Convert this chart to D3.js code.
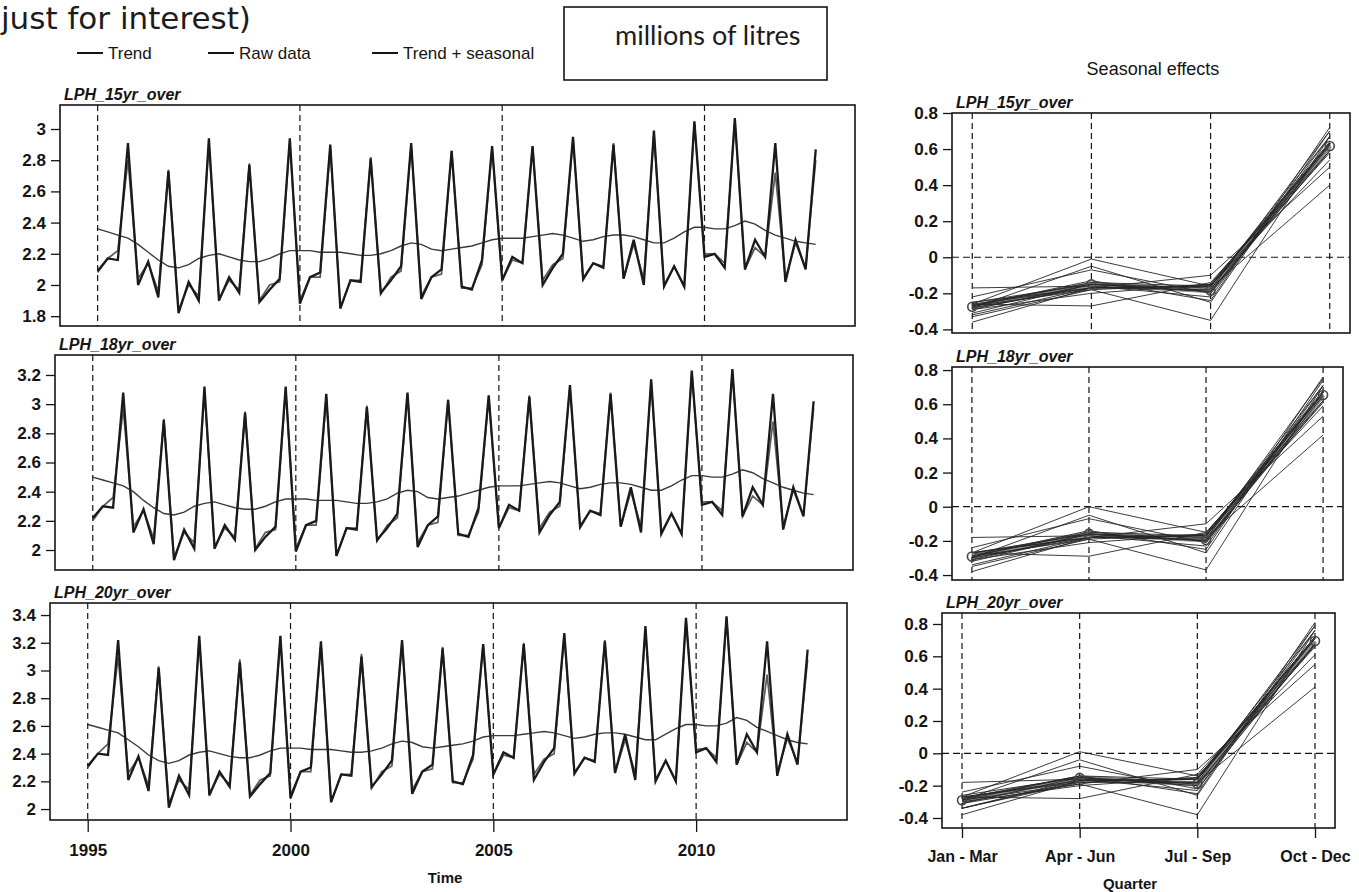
<!DOCTYPE html>
<html>
<head>
<meta charset="utf-8">
<script src="https://cdn.jsdelivr.net/npm/d3@7"></script>
<style>
  body { margin: 0; background: #fff; }
  svg { display: block; font-family: "Liberation Sans", Arial, sans-serif; }
</style>
</head>
<body>
<svg id="chart" width="1359" height="892"></svg>
<script>
// quarterly series, 1995 Q1 .. 2012 Q4 (one row per year)
var startYear = 1995;
var yearTicks = [1995, 2000, 2005, 2010];
var quarterLabels = ["Jan - Mar", "Apr - Jun", "Jul - Sep", "Oct - Dec"];
var seriesNames = ["LPH_15yr_over", "LPH_18yr_over", "LPH_20yr_over"];
var yTicks15 = [1.8, 2, 2.2, 2.4, 2.6, 2.8, 3];
var yTicks18 = [2, 2.2, 2.4, 2.6, 2.8, 3, 3.2];
var yTicks20 = [2, 2.2, 2.4, 2.6, 2.8, 3, 3.2, 3.4];
var seasTicks = [-0.4, -0.2, 0, 0.2, 0.4, 0.6, 0.8];

var raw15 = [
  2.09, 2.17, 2.16, 2.91,
  2.00, 2.15, 1.92, 2.73,
  1.82, 2.02, 1.90, 2.94,
  1.90, 2.05, 1.95, 2.77,
  1.89, 1.97, 2.04, 2.94,
  1.88, 2.05, 2.08, 2.90,
  1.85, 2.03, 2.02, 2.81,
  1.95, 2.03, 2.12, 2.91,
  1.91, 2.05, 2.10, 2.86,
  1.99, 1.97, 2.16, 2.89,
  2.03, 2.18, 2.14, 2.89,
  2.00, 2.11, 2.20, 2.95,
  2.04, 2.14, 2.11, 2.90,
  2.04, 2.29, 2.00, 2.99,
  1.99, 2.12, 1.99, 3.05,
  2.18, 2.20, 2.11, 3.07,
  2.10, 2.29, 2.18, 2.91,
  2.02, 2.29, 2.10, 2.87
];
var trend15 = [
  2.36, 2.34, 2.32, 2.30,
  2.26, 2.21, 2.16, 2.12,
  2.11, 2.13, 2.17, 2.19,
  2.20, 2.18, 2.16, 2.15,
  2.15, 2.17, 2.20, 2.22,
  2.22, 2.22, 2.21, 2.21,
  2.21, 2.20, 2.19, 2.19,
  2.20, 2.22, 2.25, 2.27,
  2.26, 2.23, 2.22, 2.23,
  2.24, 2.25, 2.27, 2.29,
  2.30, 2.30, 2.30, 2.31,
  2.32, 2.33, 2.32, 2.30,
  2.28, 2.29, 2.31, 2.32,
  2.32, 2.31, 2.29, 2.27,
  2.27, 2.30, 2.34, 2.37,
  2.37, 2.36, 2.36, 2.38,
  2.41, 2.39, 2.35, 2.32,
  2.30, 2.28, 2.27, 2.26
];
var fit15 = [
  2.08, 2.17, 2.22, 2.80,
  2.04, 2.14, 1.96, 2.74,
  1.84, 2.00, 1.93, 2.91,
  1.91, 2.03, 1.97, 2.78,
  1.90, 2.00, 2.02, 2.92,
  1.90, 2.05, 2.05, 2.88,
  1.85, 2.03, 2.03, 2.82,
  1.94, 2.05, 2.09, 2.90,
  1.93, 2.05, 2.07, 2.86,
  1.98, 1.98, 2.13, 2.88,
  2.03, 2.16, 2.14, 2.89,
  2.03, 2.13, 2.17, 2.94,
  2.03, 2.14, 2.12, 2.91,
  2.04, 2.26, 2.04, 2.97,
  2.00, 2.12, 1.99, 3.04,
  2.20, 2.20, 2.14, 3.05,
  2.10, 2.24, 2.18, 2.72,
  2.04, 2.27, 2.11, 2.80
];

var raw18 = [
  2.22, 2.30, 2.29, 3.08,
  2.12, 2.28, 2.04, 2.89,
  1.93, 2.14, 2.01, 3.12,
  2.01, 2.17, 2.07, 2.94,
  2.00, 2.09, 2.16, 3.12,
  1.99, 2.17, 2.20, 3.07,
  1.96, 2.15, 2.14, 2.98,
  2.07, 2.15, 2.25, 3.08,
  2.02, 2.17, 2.23, 3.03,
  2.11, 2.09, 2.29, 3.06,
  2.15, 2.31, 2.27, 3.05,
  2.12, 2.24, 2.33, 3.13,
  2.16, 2.27, 2.24, 3.07,
  2.16, 2.43, 2.12, 3.17,
  2.11, 2.25, 2.11, 3.23,
  2.31, 2.33, 2.24, 3.24,
  2.23, 2.43, 2.31, 3.07,
  2.14, 2.43, 2.23, 3.02
];
var trend18 = [
  2.50, 2.48, 2.46, 2.44,
  2.40, 2.34, 2.29, 2.25,
  2.24, 2.26, 2.30, 2.32,
  2.33, 2.31, 2.29, 2.28,
  2.28, 2.30, 2.33, 2.35,
  2.35, 2.35, 2.34, 2.34,
  2.34, 2.33, 2.32, 2.32,
  2.33, 2.35, 2.39, 2.41,
  2.40, 2.36, 2.35, 2.36,
  2.37, 2.39, 2.41, 2.43,
  2.44, 2.44, 2.44, 2.45,
  2.46, 2.47, 2.46, 2.44,
  2.42, 2.43, 2.45, 2.46,
  2.46, 2.45, 2.43, 2.41,
  2.41, 2.44, 2.48, 2.51,
  2.51, 2.50, 2.50, 2.52,
  2.55, 2.53, 2.49, 2.46,
  2.43, 2.41, 2.39, 2.38
];
var fit18 = [
  2.20, 2.30, 2.36, 2.97,
  2.16, 2.27, 2.08, 2.90,
  1.95, 2.12, 2.05, 3.08,
  2.02, 2.15, 2.09, 2.95,
  2.01, 2.12, 2.14, 3.10,
  2.01, 2.17, 2.17, 3.05,
  1.96, 2.15, 2.15, 2.99,
  2.06, 2.17, 2.22, 3.07,
  2.05, 2.17, 2.19, 3.03,
  2.10, 2.10, 2.26, 3.05,
  2.15, 2.29, 2.27, 3.06,
  2.15, 2.26, 2.30, 3.12,
  2.15, 2.27, 2.25, 3.08,
  2.16, 2.40, 2.16, 3.15,
  2.12, 2.25, 2.11, 3.22,
  2.33, 2.33, 2.27, 3.23,
  2.23, 2.37, 2.31, 2.88,
  2.16, 2.41, 2.24, 2.97
];

var raw20 = [
  2.31, 2.40, 2.39, 3.22,
  2.21, 2.38, 2.13, 3.02,
  2.01, 2.24, 2.10, 3.25,
  2.10, 2.27, 2.16, 3.06,
  2.09, 2.18, 2.26, 3.25,
  2.08, 2.27, 2.30, 3.21,
  2.05, 2.25, 2.24, 3.10,
  2.16, 2.25, 2.35, 3.22,
  2.11, 2.27, 2.32, 3.16,
  2.20, 2.18, 2.39, 3.19,
  2.25, 2.41, 2.37, 3.19,
  2.21, 2.34, 2.44, 3.27,
  2.26, 2.37, 2.34, 3.21,
  2.26, 2.54, 2.21, 3.32,
  2.20, 2.35, 2.20, 3.38,
  2.41, 2.44, 2.34, 3.39,
  2.32, 2.54, 2.41, 3.21,
  2.24, 2.54, 2.32, 3.15
];
var trend20 = [
  2.61, 2.59, 2.57, 2.55,
  2.50, 2.45, 2.39, 2.35,
  2.33, 2.35, 2.39, 2.41,
  2.42, 2.40, 2.38, 2.37,
  2.37, 2.39, 2.42, 2.44,
  2.44, 2.44, 2.43, 2.43,
  2.43, 2.42, 2.41, 2.41,
  2.42, 2.44, 2.47, 2.49,
  2.48, 2.45, 2.44, 2.45,
  2.46, 2.47, 2.49, 2.52,
  2.53, 2.53, 2.53, 2.54,
  2.55, 2.56, 2.55, 2.53,
  2.51, 2.52, 2.54, 2.55,
  2.55, 2.54, 2.52, 2.50,
  2.50, 2.54, 2.58, 2.61,
  2.61, 2.60, 2.60, 2.62,
  2.66, 2.64, 2.59, 2.56,
  2.53, 2.50, 2.48, 2.47
];
var fit20 = [
  2.30, 2.40, 2.47, 3.10,
  2.26, 2.37, 2.17, 3.03,
  2.04, 2.21, 2.14, 3.22,
  2.11, 2.25, 2.18, 3.08,
  2.10, 2.21, 2.24, 3.23,
  2.10, 2.27, 2.27, 3.19,
  2.05, 2.25, 2.25, 3.12,
  2.15, 2.27, 2.31, 3.21,
  2.14, 2.27, 2.29, 3.17,
  2.19, 2.19, 2.36, 3.19,
  2.25, 2.39, 2.37, 3.20,
  2.25, 2.36, 2.40, 3.25,
  2.25, 2.37, 2.35, 3.22,
  2.26, 2.50, 2.26, 3.29,
  2.21, 2.35, 2.20, 3.37,
  2.43, 2.44, 2.37, 3.38,
  2.32, 2.48, 2.41, 2.97,
  2.26, 2.51, 2.34, 3.08
];

var svg = d3.select("#chart");
var ink = "#141414";

// layout of the three time series panels (left) and seasonal panels (right)
var leftPanels = [
  {name: seriesNames[0], raw: raw15, trend: trend15, fit: fit15, ticks: yTicks15,
   x0: 60, x1: 855, y0: 105, y1: 326, lo: 1.737, hi: 3.154},
  {name: seriesNames[1], raw: raw18, trend: trend18, fit: fit18, ticks: yTicks18,
   x0: 55, x1: 853, y0: 355, y1: 570, lo: 1.863, hi: 3.337},
  {name: seriesNames[2], raw: raw20, trend: trend20, fit: fit20, ticks: yTicks20,
   x0: 50, x1: 847, y0: 603, y1: 820, lo: 1.921, hi: 3.487}
];
var rightPanels = [
  {x0: 952, x1: 1350, y0: 113, y1: 333, lo: -0.42, hi: 0.80},
  {x0: 952, x1: 1343, y0: 367, y1: 580, lo: -0.429, hi: 0.818},
  {x0: 942, x1: 1335, y0: 613, y1: 828, lo: -0.462, hi: 0.868}
];

function styleAxis(g, size) {
  g.select(".domain").remove();
  g.selectAll(".tick line").attr("stroke", ink).attr("stroke-width", 1.3);
  g.selectAll(".tick text")
    .attr("fill", ink)
    .style("font-size", size + "px")
    .style("font-weight", "bold");
}

function title(x, y, txt) {
  svg.append("text")
    .attr("x", x).attr("y", y)
    .style("font-size", "16px")
    .style("font-weight", "bold")
    .style("font-style", "italic")
    .attr("fill", ink)
    .text(txt);
}

leftPanels.forEach(function(p, pi) {
  var x = d3.scaleLinear().domain([1994.07, 2013.72]).range([p.x0, p.x1]);
  var y = d3.scaleLinear().domain([p.lo, p.hi]).range([p.y1, p.y0]);
  var g = svg.append("g");

  // dashed year grid
  g.selectAll("line.grid").data(yearTicks).enter().append("line")
    .attr("x1", function(d) { return x(d); })
    .attr("x2", function(d) { return x(d); })
    .attr("y1", p.y0).attr("y2", p.y1)
    .attr("stroke", ink).attr("stroke-width", 1.2)
    .attr("stroke-dasharray", "6,4");

  var line = function(vals) {
    return d3.line()
      .x(function(d, i) { return x(startYear + i / 4); })
      .y(function(d) { return y(d); })(vals);
  };

  g.append("path").attr("d", line(p.trend))
    .attr("fill", "none").attr("stroke", "#3a3a3a").attr("stroke-width", 1.4);
  g.append("path").attr("d", line(p.fit))
    .attr("fill", "none").attr("stroke", "#5a5a5a").attr("stroke-width", 1.7);
  g.append("path").attr("d", line(p.raw))
    .attr("fill", "none").attr("stroke", "#1a1a1a").attr("stroke-width", 2.3);

  g.append("rect")
    .attr("x", p.x0).attr("y", p.y0)
    .attr("width", p.x1 - p.x0).attr("height", p.y1 - p.y0)
    .attr("fill", "none").attr("stroke", ink).attr("stroke-width", 1.6);

  var ax = g.append("g")
    .attr("transform", "translate(" + p.x0 + ",0)")
    .call(d3.axisLeft(y).tickValues(p.ticks).tickSize(9).tickPadding(5)
      .tickFormat(function(d) { return String(d); }));
  styleAxis(ax, 17);

  if (pi === 2) {
    var bx = g.append("g")
      .attr("transform", "translate(0," + p.y1 + ")")
      .call(d3.axisBottom(x).tickValues(yearTicks).tickSize(12).tickPadding(12)
        .tickFormat(function(d) { return String(d); }));
    styleAxis(bx, 17);
  }
  title(p.x0 + 4, p.y0 - 5, p.name);
});

rightPanels.forEach(function(r, pi) {
  var lp = leftPanels[pi];
  var x = d3.scaleLinear().domain([0.83, 4.17]).range([r.x0, r.x1]);
  var y = d3.scaleLinear().domain([r.lo, r.hi]).range([r.y1, r.y0]);
  var g = svg.append("g");

  // seasonal effect of each year = (trend + seasonal) - trend
  var years = d3.range(lp.raw.length / 4).map(function(k) {
    return [0, 1, 2, 3].map(function(q) {
      return lp.fit[k * 4 + q] - lp.trend[k * 4 + q];
    });
  });
  var means = [0, 1, 2, 3].map(function(q) {
    return d3.mean(years, function(s) { return s[q]; });
  });

  g.selectAll("line.vq").data([1, 2, 3, 4]).enter().append("line")
    .attr("x1", function(d) { return x(d); })
    .attr("x2", function(d) { return x(d); })
    .attr("y1", r.y0).attr("y2", r.y1)
    .attr("stroke", ink).attr("stroke-width", 1.2)
    .attr("stroke-dasharray", "6,4");
  g.append("line")
    .attr("x1", r.x0).attr("x2", r.x1)
    .attr("y1", y(0)).attr("y2", y(0))
    .attr("stroke", ink).attr("stroke-width", 1.2)
    .attr("stroke-dasharray", "7,4");

  var sLine = d3.line()
    .x(function(d, i) { return x(i + 1); })
    .y(function(d) { return y(d); });

  g.append("path").attr("d", sLine(means))
    .attr("fill", "none").attr("stroke", "#8c8c8c").attr("stroke-width", 5);
  g.selectAll("path.yr").data(years).enter().append("path")
    .attr("d", sLine)
    .attr("fill", "none").attr("stroke", "#262626").attr("stroke-width", 0.9);
  g.selectAll("circle").data(means).enter().append("circle")
    .attr("cx", function(d, i) { return x(i + 1); })
    .attr("cy", function(d) { return y(d); })
    .attr("r", 4.5)
    .attr("fill", "none").attr("stroke", "#444").attr("stroke-width", 1.6);

  g.append("rect")
    .attr("x", r.x0).attr("y", r.y0)
    .attr("width", r.x1 - r.x0).attr("height", r.y1 - r.y0)
    .attr("fill", "none").attr("stroke", ink).attr("stroke-width", 1.6);

  var ax = g.append("g")
    .attr("transform", "translate(" + r.x0 + ",0)")
    .call(d3.axisLeft(y).tickValues(seasTicks).tickSize(9).tickPadding(5)
      .tickFormat(function(d) { return String(d); }));
  styleAxis(ax, 17);

  if (pi === 2) {
    var bx = g.append("g")
      .attr("transform", "translate(0," + r.y1 + ")")
      .call(d3.axisBottom(x).tickValues([1, 2, 3, 4]).tickSize(10).tickPadding(13)
        .tickFormat(function(d) { return quarterLabels[d - 1]; }));
    styleAxis(bx, 16);
  }
  title(r.x0 + 4, r.y0 - 5, lp.name);
});

// axis titles
svg.append("text").attr("x", 445).attr("y", 883)
  .attr("text-anchor", "middle").style("font-size", "15px").style("font-weight", "bold")
  .attr("fill", ink).text("Time");
svg.append("text").attr("x", 1130).attr("y", 889)
  .attr("text-anchor", "middle").style("font-size", "15px").style("font-weight", "bold")
  .attr("fill", ink).text("Quarter");
svg.append("text").attr("x", 1153).attr("y", 75)
  .attr("text-anchor", "middle").style("font-size", "18px")
  .attr("fill", ink).text("Seasonal effects");

// legend
var legend = [
  {label: "Trend", x: 77},
  {label: "Raw data", x: 208},
  {label: "Trend + seasonal", x: 372}
];
var lg = svg.append("g");
lg.selectAll("line").data(legend).enter().append("line")
  .attr("x1", function(d) { return d.x; })
  .attr("x2", function(d) { return d.x + 26; })
  .attr("y1", 53).attr("y2", 53)
  .attr("stroke", ink).attr("stroke-width", 2);
lg.selectAll("text").data(legend).enter().append("text")
  .attr("x", function(d) { return d.x + 31; })
  .attr("y", 59)
  .style("font-size", "17px")
  .attr("fill", ink)
  .text(function(d) { return d.label; });

// heading fragment and units box from the page
svg.append("text").attr("x", 1).attr("y", 29)
  .style("font-family", "'DejaVu Sans', Verdana, sans-serif")
  .style("font-size", "31px").attr("fill", "#1c1c1c")
  .text("just for interest)");
svg.append("rect").attr("x", 564).attr("y", 7)
  .attr("width", 263).attr("height", 73)
  .attr("fill", "none").attr("stroke", ink).attr("stroke-width", 1.6);
svg.append("text").attr("x", 615).attr("y", 45)
  .style("font-family", "Lato, 'Open Sans', sans-serif")
  .style("font-size", "27px").attr("fill", "#1c1c1c")
  .text("millions of litres");
</script>
</body>
</html>
